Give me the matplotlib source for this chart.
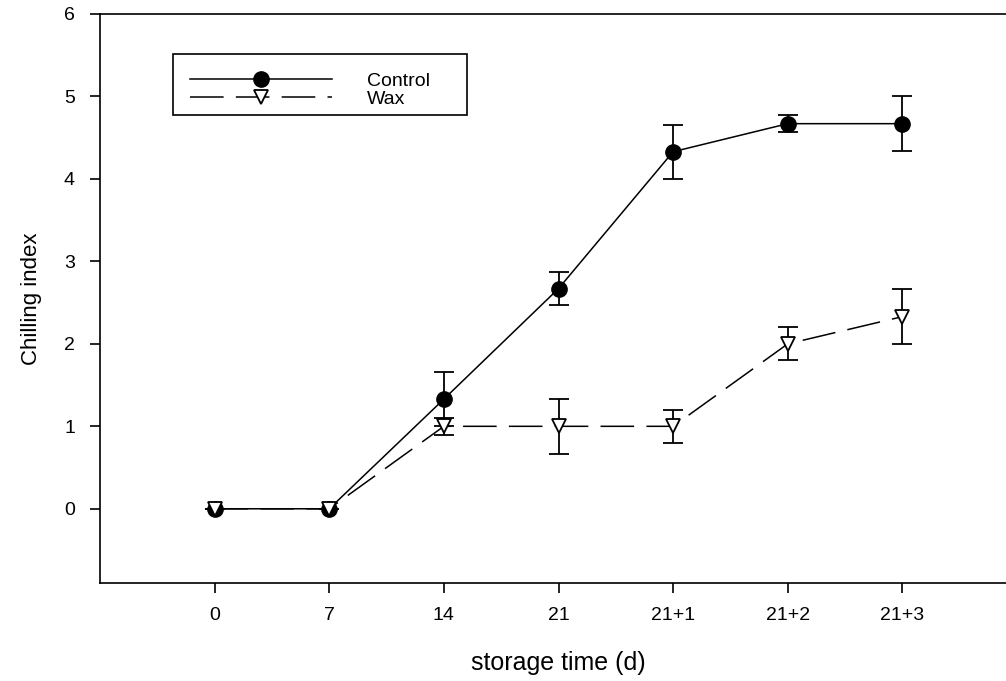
import matplotlib
matplotlib.use("Agg")
import matplotlib.pyplot as plt
from matplotlib.lines import Line2D
from matplotlib.patches import Rectangle

categories = ["0", "7", "14", "21", "21+1", "21+2", "21+3"]
control = [0, 0, 1.33, 2.67, 4.33, 4.67, 4.67]
control_err = [0, 0, 0.33, 0.2, 0.33, 0.1, 0.33]
wax = [0, 0, 1.0, 1.0, 1.0, 2.0, 2.33]
wax_err = [0, 0, 0.1, 0.33, 0.2, 0.2, 0.33]
yticks = [0, 1, 2, 3, 4, 5, 6]

plt.rcParams['font.family'] = ['Liberation Sans', 'DejaVu Sans']

W, H = 1006, 681
fig = plt.figure(figsize=(W / 100, H / 100), dpi=100)
ax = fig.add_axes([100 / W, (H - 583) / H, 917 / W, (583 - 14) / H])

x = list(range(len(categories)))

ax.errorbar(x, control, yerr=control_err, fmt='none', ecolor='black',
            elinewidth=1.3, capsize=7.5, capthick=1.3, zorder=2)
ax.plot(x, control, color='black', lw=1.1, marker='o', markersize=11,
        markerfacecolor='black', markeredgecolor='black', zorder=3)

ax.errorbar(x, wax, yerr=wax_err, fmt='none', ecolor='black',
            elinewidth=1.3, capsize=7.5, capthick=1.3, zorder=4)
ax.plot(x, wax, color='black', lw=1.1, dashes=(22, 8), marker='v',
        markersize=10, markerfacecolor='white', markeredgecolor='black',
        markeredgewidth=1.3, zorder=5)

ax.set_xlim(-1, 7)
ax.set_ylim(-0.9, 6)
ax.set_xticks(x)
ax.set_xticklabels(categories)
ax.set_yticks(yticks)
ax.spines['right'].set_visible(False)
for s in ['left', 'bottom', 'top']:
    ax.spines[s].set_linewidth(1.2)
ax.tick_params(direction='out', length=7, width=1.2, labelsize=14, pad=10)
ax.tick_params(axis='y', pad=11)

ax.set_xlabel('storage time (d)', fontsize=18, labelpad=20)
ax.set_ylabel('Chilling index', fontsize=16, labelpad=16)

handles = [
    Line2D([0], [0], color='black', lw=1.1, marker='o', markersize=11,
           markerfacecolor='black'),
    Line2D([0], [0], color='black', lw=1.1, dashes=(22, 8), marker='v',
           markersize=10, markerfacecolor='white', markeredgewidth=1.3),
]
leg = fig.legend(handles, ['Control', 'Wax'], loc='center left',
                 bbox_to_anchor=(190 / W, (H - 90) / H), frameon=False,
                 fontsize=14, handlelength=7.3, handletextpad=1.8,
                 labelspacing=0.05, borderpad=0, borderaxespad=0)
fig.patches.append(Rectangle((173 / W, (H - 115) / H), (467 - 173) / W,
                             (115 - 54) / H, transform=fig.transFigure,
                             fill=False, edgecolor='black', lw=1.2))

fig.savefig('out.png', dpi=100)
